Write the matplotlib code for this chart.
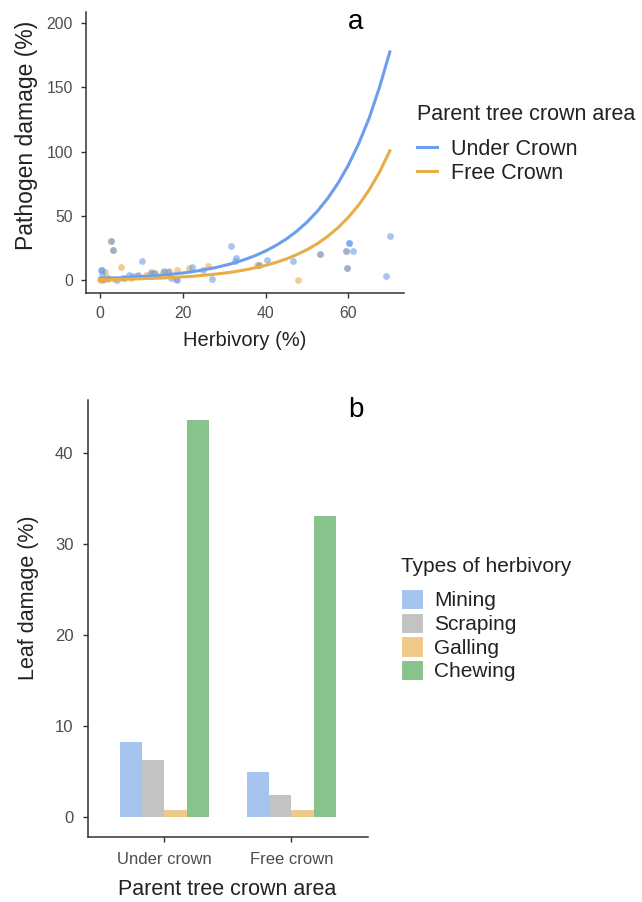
import numpy as np
import matplotlib
matplotlib.use("Agg")
import matplotlib.pyplot as plt
from matplotlib.lines import Line2D
from matplotlib.patches import Patch

plt.rcParams['font.family'] = ['Liberation Sans', 'DejaVu Sans']

# panel a: raw points
under_x = [0.2, 0.4, 0.6, 1.0, 1.9, 2.7, 3.2, 4.2, 5.5, 7.1, 8.0, 9.1, 10.2, 12.2, 13.1,
           15.4, 16.5, 17.1, 18.3, 18.6, 22.1, 24.8, 27.1, 31.7, 32.5, 32.8, 38.4, 40.3,
           46.7, 53.1, 59.5, 59.7, 60.1, 60.2, 61.1, 69.1, 70.0]
under_y = [8.3, 7.8, 5.2, 1.5, 1.6, 31.0, 24.0, 0.3, 1.8, 3.9, 3.2, 4.4, 15.0, 6.0, 5.7,
           7.0, 6.8, 2.0, 1.3, 0.3, 10.5, 8.0, 0.9, 26.8, 15.0, 17.2, 12.2, 16.1,
           15.0, 20.2, 22.6, 9.6, 29.3, 29.0, 23.2, 3.7, 34.3]
free_x = [0.0, 0.3, 0.8, 1.3, 2.0, 2.7, 3.2, 3.5, 5.0, 6.0, 7.5, 9.2, 11.0, 12.2, 13.2,
          15.3, 16.6, 18.7, 21.5, 26.2, 37.8, 38.4, 47.9, 53.1, 59.5, 59.7]
free_y = [0.3, 1.0, 0.5, 6.5, 0.8, 31.0, 24.0, 1.2, 10.7, 1.8, 2.2, 3.5, 4.0, 6.5, 5.5,
          6.5, 7.0, 8.3, 9.6, 11.1, 12.0, 12.2, 0.5, 20.2, 22.6, 9.6]

# fitted curves, every 2.5 %
curve_x = [0, 2.5, 5, 7.5, 10, 12.5, 15, 17.5, 20, 22.5, 25, 27.5, 30, 32.5, 35, 37.5,
           40, 42.5, 45, 47.5, 50, 52.5, 55, 57.5, 60, 62.5, 65, 67.5, 70]
under_fit = [1.5, 1.8, 2.1, 2.5, 3.0, 3.5, 4.2, 4.9, 5.8, 6.9, 8.2, 9.7, 11.6, 13.7, 16.3,
             19.3, 22.9, 27.2, 32.2, 38.2, 45.3, 53.8, 63.8, 75.6, 89.7, 106.4, 126.0,
             150.0, 177.5]
free_fit = [0.7, 0.8, 0.95, 1.1, 1.35, 1.6, 1.9, 2.3, 2.8, 3.3, 4.0, 4.8, 5.7, 6.8, 8.2,
            9.8, 11.7, 14.0, 16.7, 20.0, 23.9, 28.6, 34.3, 41.0, 49.1, 58.7, 70.3, 84.1,
            100.7]

# panel b: leaf damage by type
crowns = ["Under crown", "Free crown"]
types = ["Mining", "Scraping", "Galling", "Chewing"]
damage = {
    "Mining": [8.2, 4.9],
    "Scraping": [6.2, 2.4],
    "Galling": [0.75, 0.75],
    "Chewing": [43.6, 33.1],
}

blue = "#6d9eeb"
orange = "#e9ad45"
bar_colors = ["#a4c3ef", "#c3c3c3", "#efc98a", "#88c38b"]
axis_col = "#333333"
tick_col = "#4d4d4d"
title_col = "#222222"

fig = plt.figure(figsize=(6.42, 9.02), dpi=100)


def style_axes(ax, pad_x, pad_y, size):
    for s in ["top", "right"]:
        ax.spines[s].set_visible(False)
    for s in ["left", "bottom"]:
        ax.spines[s].set_color(axis_col)
        ax.spines[s].set_linewidth(1.1)
    ax.tick_params(axis="x", length=3.5, width=1.0, color=axis_col, labelcolor=tick_col,
                   labelsize=size, pad=pad_x)
    ax.tick_params(axis="y", length=3.5, width=1.0, color=axis_col, labelcolor=tick_col,
                   labelsize=size, pad=pad_y)


# ---- panel a ----
ax1 = fig.add_axes([0.1332, 0.6748, 0.4966, 0.3119])
ax1.scatter(free_x, free_y, s=24, color=orange, alpha=0.6, linewidths=0, zorder=2)
ax1.scatter(under_x, under_y, s=24, color=blue, alpha=0.6, linewidths=0, zorder=2)
ax1.plot(curve_x, under_fit, color=blue, lw=2.2, zorder=3)
ax1.plot(curve_x, free_fit, color=orange, lw=2.2, zorder=3)
ax1.set_xlim(-3.5, 73.5)
ax1.set_ylim(-10, 208.5)
ax1.set_xticks([0, 20, 40, 60])
ax1.set_yticks([0, 50, 100, 150, 200])
style_axes(ax1, 5.5, 5.5, 11.3)
ax1.set_xlabel("Herbivory (%)", fontsize=14.5, color=title_col)
ax1.set_ylabel("Pathogen damage (%)", fontsize=16.5, color=title_col)
ax1.xaxis.set_label_coords(0.4994, -0.166)
ax1.xaxis.label.set_va("center")
ax1.yaxis.set_label_coords(-0.184, 0.5627)
ax1.yaxis.label.set_va("center")

handles1 = [Line2D([], [], color=blue, lw=2.2), Line2D([], [], color=orange, lw=2.2)]
fig.text(417 / 642, 1 - 115 / 902, "Parent tree crown area", fontsize=15.5,
         color=title_col, ha="left", va="center")
fig.legend(handles1, ["Under Crown", "Free Crown"], loc="upper left",
           bbox_to_anchor=(0.6495, 1 - 139 / 902), frameon=False, fontsize=15.5,
           borderpad=0, borderaxespad=0, handlelength=0.95, handletextpad=0.64,
           labelspacing=0.12, labelcolor=title_col)

fig.text(356 / 642, 1 - 22 / 902, "a", fontsize=20, ha="center", va="center")

# ---- panel b ----
ax2 = fig.add_axes([0.1371, 0.0724, 0.4357, 0.4841])
pos = np.arange(1, len(crowns) + 1)
w = 0.175
for i, t in enumerate(types):
    ax2.bar(pos + (i - 1.5) * w, damage[t], width=w, color=bar_colors[i], label=t,
            linewidth=0, zorder=2)
ax2.set_xlim(0.4, 2.6)
ax2.set_ylim(-2.18, 45.8)
ax2.set_xticks(pos)
ax2.set_xticklabels(crowns)
ax2.set_yticks([0, 10, 20, 30, 40])
style_axes(ax2, 7.5, 7, 12)
ax2.set_xlabel("Parent tree crown area", fontsize=15.5, color=title_col)
ax2.set_ylabel("Leaf damage (%)", fontsize=15.5, color=title_col)
ax2.xaxis.set_label_coords(0.4959, -0.122)
ax2.xaxis.label.set_va("center")
ax2.yaxis.set_label_coords(-0.2145, 0.5466)
ax2.yaxis.label.set_va("center")

handles2 = [Patch(facecolor=c, edgecolor="white", linewidth=0.8) for c in bar_colors]
fig.text(401 / 642, 1 - 567 / 902, "Types of herbivory", fontsize=15,
         color=title_col, ha="left", va="center")
fig.legend(handles2, types, loc="upper left", bbox_to_anchor=(0.6246, 1 - 589 / 902),
           frameon=False, fontsize=15, borderpad=0, borderaxespad=0,
           handlelength=1.06, handleheight=1.12, handletextpad=0.53, labelspacing=0.12,
           labelcolor=title_col)

fig.text(356 / 642, 1 - 410 / 902, "b", fontsize=20, ha="center", va="center")

fig.savefig("out.png", dpi=100)
